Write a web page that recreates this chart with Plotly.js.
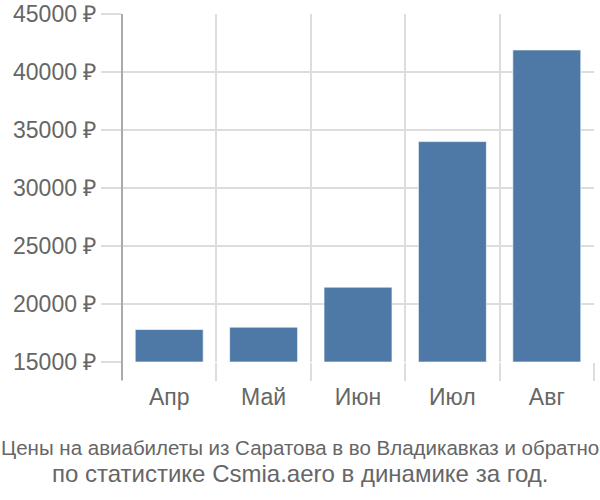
<!DOCTYPE html>
<html>
<head>
<meta charset="utf-8">
<script src="https://cdn.plot.ly/plotly-3.0.1.min.js"></script>
<style>html,body{margin:0;padding:0;background:#fff}#chart{width:600px;height:500px}</style>
</head>
<body>
<div id="chart"></div>
<script>
const months = ["Апр", "Май", "Июн", "Июл", "Авг"];
const prices = [17800, 18000, 21450, 34000, 41900];
const yTicks = [15000, 20000, 25000, 30000, 35000, 40000, 45000];
const titleLine1 = "Цены на авиабилеты из Саратова в во Владикавказ и обратно";
const titleLine2 = "по статистике Csmia.aero в динамике за год.";
const baseline = 15000;

const trace = {
  type: "bar",
  x: months,
  y: prices.map(v => v - baseline),
  base: baseline,
  marker: {color: "#4e79a7", line: {color: "rgba(255,255,255,0.6)", width: 1}},
  hoverinfo: "skip"
};

const plotTop = 14, plotBottom = 362, plotH = plotBottom - plotTop;
const pyToPaper = py => (plotBottom - py) / plotH;
const centerX = (300 - 122) / 472;

const layout = {
  width: 600, height: 500,
  margin: {l: 122, r: 6, t: 14, b: 138},
  paper_bgcolor: "#fff", plot_bgcolor: "#fff",
  font: {family: "Liberation Sans, Arial, sans-serif", color: "#666"},
  bargap: 0.28,
  showlegend: false,
  xaxis: {
    type: "category",
    tickson: "boundaries",
    ticks: "outside", ticklen: 18, tickcolor: "#ddd", tickwidth: 2,
    ticklabelstandoff: 19,
    showgrid: true, gridcolor: "#ddd", gridwidth: 2,
    showline: false, zeroline: false,
    tickfont: {size: 23, color: "#666"},
    fixedrange: true
  },
  yaxis: {
    range: [15000, 45000],
    tickvals: yTicks,
    ticktext: yTicks.map(v => v + " ₽"),
    ticks: "outside", ticklen: 20, tickcolor: "#ddd", tickwidth: 2,
    ticklabelstandoff: 0,
    showgrid: true, gridcolor: "#ddd", gridwidth: 2,
    zeroline: false, showline: false,
    tickfont: {size: 23, color: "#666"},
    fixedrange: true
  },
  shapes: [{
    type: "line", xref: "paper", yref: "paper",
    x0: 0, x1: 0, y0: -18/plotH, y1: 1,
    line: {color: "#aaa", width: 2}
  }],
  annotations: [
    {text: titleLine1, xref: "paper", yref: "paper", x: centerX, y: pyToPaper(447),
     xanchor: "center", yanchor: "middle", showarrow: false,
     font: {size: 20.5, color: "#666", family: "Liberation Sans, Arial, sans-serif"}},
    {text: titleLine2, xref: "paper", yref: "paper", x: centerX, y: pyToPaper(473),
     xanchor: "center", yanchor: "middle", showarrow: false,
     font: {size: 24, color: "#666", family: "Liberation Sans, Arial, sans-serif"}}
  ]
};
Plotly.newPlot("chart", [trace], layout, {displayModeBar: false, staticPlot: true});
</script>
</body>
</html>
